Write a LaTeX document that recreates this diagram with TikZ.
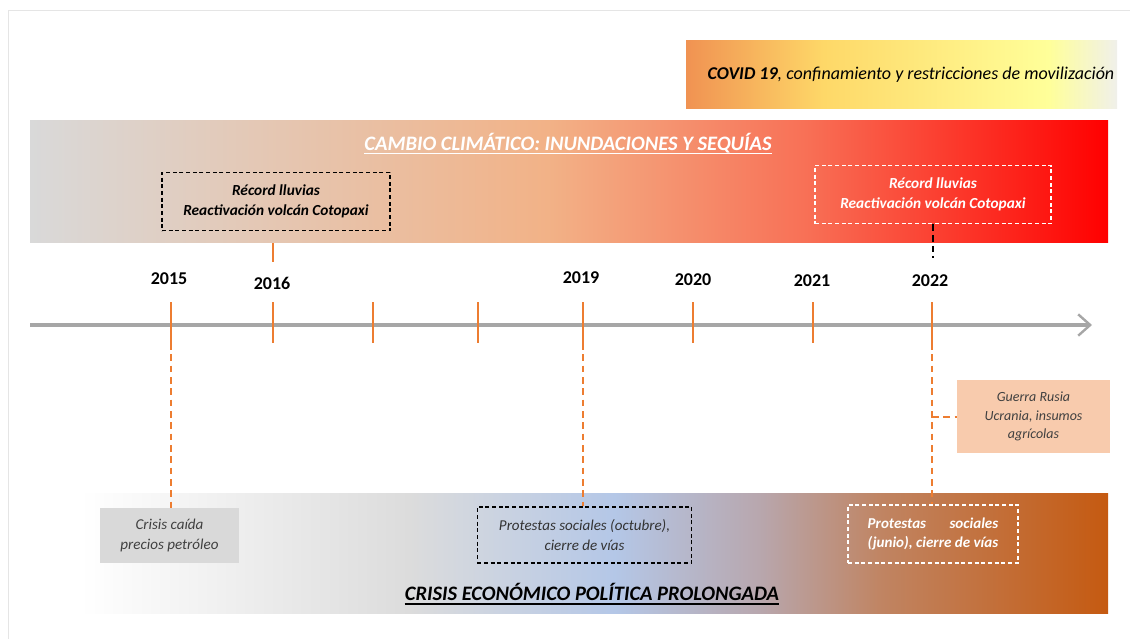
\documentclass[tikz,border=0pt]{standalone}
\usepackage{fontspec}
\setmainfont{Carlito}
\usepackage{calc}
\usetikzlibrary{arrows.meta,backgrounds}

\definecolor{covidA}{RGB}{240,146,82}
\definecolor{covidB}{RGB}{254,216,104}
\definecolor{covidC}{RGB}{255,255,153}
\definecolor{covidD}{RGB}{240,240,234}
\definecolor{climaA}{RGB}{217,217,217}
\definecolor{climaB}{RGB}{242,178,135}
\definecolor{climaC}{RGB}{248,112,86}
\definecolor{climaD}{RGB}{255,0,0}
\definecolor{crisisA}{RGB}{255,255,255}
\definecolor{crisisB}{RGB}{220,220,220}
\definecolor{crisisC}{RGB}{180,199,231}
\definecolor{crisisD}{RGB}{184,167,174}
\definecolor{crisisE}{RGB}{192,132,98}
\definecolor{crisisF}{RGB}{197,90,17}
\definecolor{tickorange}{RGB}{237,125,49}
\definecolor{axisgray}{RGB}{166,166,166}
\definecolor{boxgray}{RGB}{217,217,217}
\definecolor{boxpeach}{RGB}{248,203,173}
\definecolor{textgray}{RGB}{64,64,64}

\pgfdeclarehorizontalshading{covidshade}{100bp}{color(0bp)=(covidA); color(25bp)=(covidA); color(41bp)=(covidB); color(67bp)=(covidC); color(75bp)=(covidD); color(100bp)=(covidD)}
\pgfdeclarehorizontalshading{climashade}{100bp}{color(0bp)=(climaA); color(25bp)=(climaA); color(49bp)=(climaB); color(61bp)=(climaC); color(75bp)=(climaD); color(100bp)=(climaD)}
\pgfdeclarehorizontalshading{crisisshade}{100bp}{color(0bp)=(crisisA); color(25bp)=(crisisA); color(41bp)=(crisisB); color(51bp)=(crisisC); color(58bp)=(crisisD); color(64bp)=(crisisE); color(75bp)=(crisisF); color(100bp)=(crisisF)}

\begin{document}
\begin{tikzpicture}[%
					x=0.75pt, y=-0.75pt,
					every node/.style={%
						inner sep=0pt,
						align=center
					},
					title/.style={%
						font=\fontsize{15.4}{18}\selectfont\bfseries\itshape
					},
					year/.style={%
						font=\fontsize{13.5}{16}\selectfont\bfseries
					},
					event/.style={%
						font=\fontsize{11.3}{14.5}\selectfont\itshape,
						minimum height=42pt
					},
					dashbox/.style={%
						event,
						draw,
						line width=0.9pt,
						dash pattern=on 3pt off 2pt
					},
					tick/.style={%
						draw=tickorange,
						line width=1.5pt
					},
					link/.style={%
						draw=tickorange,
						line width=1.5pt,
						dash pattern=on 5pt off 3.5pt
					}
				]

	\useasboundingbox (0,0) rectangle (1130,639);
	\draw[black!10] (8,639) -- (8,10) -- (1130,10);

	% bands
	\shade[shading=covidshade] (686,40) rectangle (1117,108);
	\shade[shading=climashade] (30,120) rectangle (1108,242);
	\shade[shading=crisisshade] (80,493) rectangle (1108,613);

	\node (covid) at (911,75) {%
		\fontsize{13.5}{16}\selectfont\itshape\textbf{COVID 19}, confinamiento y restricciones de movilización};
	\node[title, text=white] (clima) at (568,143) {CAMBIO CLIMÁTICO: INUNDACIONES Y SEQUÍAS};
	\node[title] (crisis) at (592,592) {CRISIS ECONÓMICO POLÍTICA PROLONGADA};
	\draw[white, line width=1.4pt] ([yshift=-2.4pt]clima.base west) -- ([yshift=-2.4pt]clima.base east);
	\draw[black, line width=1.4pt] ([yshift=-2.4pt]crisis.base west) -- ([yshift=-2.4pt]crisis.base east);

	% axis
	\coordinate (axstart) at (30,325);
	\coordinate (axend) at (1092,325);
	\draw[axisgray, line width=2.4pt, -{Straight Barb[length=9pt,width=16pt,line width=1.8pt]}] (axstart) -- (axend);

	\foreach \x [count=\i] in {171, 273, 373, 478, 583, 693, 813, 932} {
		\coordinate (top\i) at (\x,302);
		\coordinate (bot\i) at (\x,343);
		\draw[tick] (top\i) -- (bot\i);
	}

	\foreach \x/\y/\yr in {169/279/2015, 272/283/2016, 581/278/2019, 693/280/2020, 812/281/2021, 930/281/2022} {
		\node[year] (y\yr) at (\x,\y) {\yr};
	}

	% events above the axis
	\node[dashbox, font=\fontsize{11.5}{15}\selectfont\bfseries\itshape, minimum width=171pt, minimum height=44pt] (lluviasA) at (276,201.5) {%
		Récord lluvias \\ Reactivación volcán Cotopaxi};
	\node[dashbox, draw=white, text=white, font=\fontsize{11.5}{15}\selectfont\bfseries\itshape, minimum width=177pt, minimum height=44pt] (lluviasB) at (933,194.5) {%
		Récord lluvias \\ Reactivación volcán Cotopaxi};

	\coordinate (dropA) at (273,262);
	\coordinate (dropB) at (933,258);
	\begin{pgfonlayer}{background}
		\draw[tick] (dropA |- lluviasA.south) -- (dropA);
	\end{pgfonlayer}
	\draw[line width=1pt, dash pattern=on 5pt off 3pt] (lluviasB.south) -- (dropB);

	% events below the axis
	\node[event, fill=boxgray, text=textgray, minimum width=104pt, minimum height=41pt] (petroleo) at (169.5,535.5) {%
		Crisis caída \\ precios petróleo};
	\node[dashbox, text=black!80, minimum width=161pt] (octubre) at (584.5,535) {%
		Protestas sociales (octubre), \\ cierre de vías};
	\node[dashbox, draw=white, text=white, font=\fontsize{11.3}{14.5}\selectfont\bfseries\itshape, minimum width=127.5pt, minimum height=43.5pt] (junio) at (933,534) {%
		\makebox[\widthof{(junio), cierre de vías}][s]{Protestas sociales} \\ (junio), cierre de vías};
	\node[event, fill=boxpeach, text=textgray, font=\fontsize{10.5}{14}\selectfont\itshape, minimum width=114.75pt, minimum height=54.75pt] (guerra) at (1033.5,416.5) {%
		Guerra Rusia \\ Ucrania, insumos \\ agrícolas};

	\draw[link] (bot1) -- (bot1 |- petroleo.north);
	\draw[link] (bot5) -- (bot5 |- octubre.north);
	\draw[link] (bot8) -- (bot8 |- junio.north);
	\draw[link] (bot8 |- guerra.west) -- (guerra.west);
\end{tikzpicture}
\end{document}
